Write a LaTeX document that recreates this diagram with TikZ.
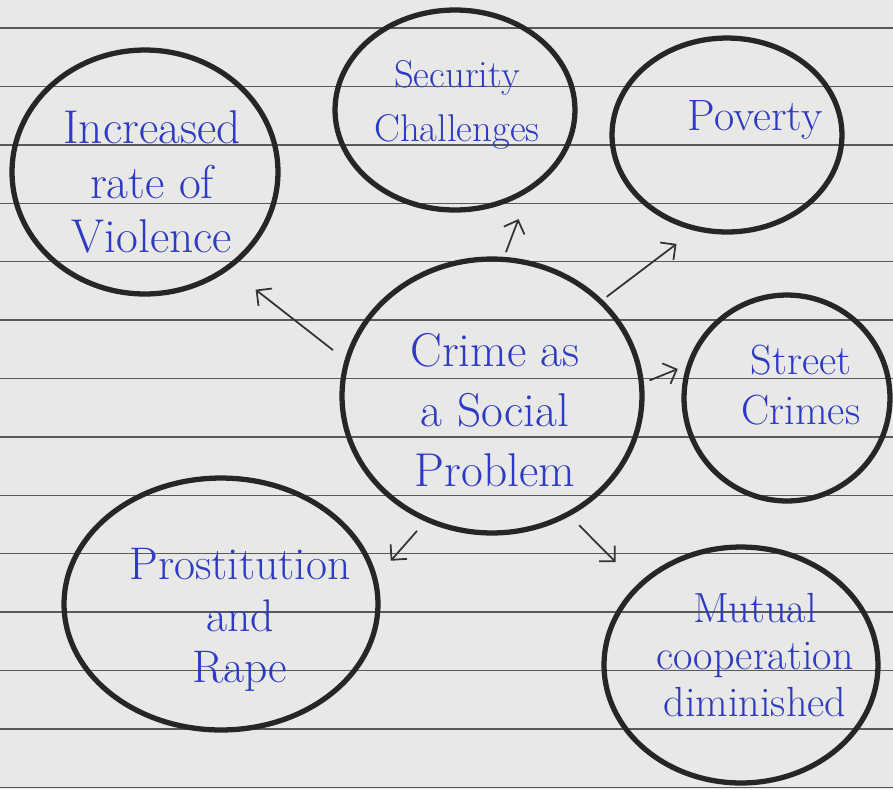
\documentclass[tikz,border=0pt]{standalone}
\usetikzlibrary{shapes.geometric,arrows.meta}
\definecolor{inkblue}{RGB}{45,58,195}
\definecolor{paper}{RGB}{232,232,230}
\tikzset{
  bubble/.style={ellipse, draw=black!85, line width=3pt, inner sep=0pt},
  jot/.style={text=inkblue, align=center, inner sep=0pt},
  link/.style={-{Straight Barb[length=2.2mm,width=4.4mm]}, draw=black!80, line width=1pt},
  ruling/.style={draw=black!65, line width=0.8pt}
}
\begin{document}
\begin{tikzpicture}[x=0.02cm, y=-0.02cm]
  \fill[paper] (0,0) rectangle (893,789);
  \useasboundingbox (0,0) rectangle (893,789);
  \foreach \i in {0,...,13}
    \draw[ruling] (0,{28+58.4*\i}) -- (893,{28+58.4*\i});

  \node[bubble, minimum width=5.32cm, minimum height=4.88cm] (violence) at (145,172) {};
  \node[bubble, minimum width=4.8cm, minimum height=4.0cm] (security) at (455,110) {};
  \node[bubble, minimum width=4.6cm, minimum height=3.88cm] (poverty) at (727,135) {};
  \node[bubble, minimum width=6.0cm, minimum height=5.48cm] (crime) at (492,396) {};
  \node[bubble, minimum width=4.12cm, minimum height=4.12cm] (street) at (787,398) {};
  \node[bubble, minimum width=6.28cm, minimum height=5.04cm] (prostitution) at (221,604) {};
  \node[bubble, minimum width=5.48cm, minimum height=4.72cm] (mutual) at (741,665) {};

  \node[jot, font=\fontsize{27}{31}\selectfont] (violencetxt) at (152,182) {Increased\\rate of\\Violence};
  \node[jot, font=\fontsize{22}{31}\selectfont] (securitytxt) at (457,105) {Security\\Challenges};
  \node[jot, font=\fontsize{25}{30}\selectfont] (povertytxt) at (755,120) {Poverty};
  \node[jot, font=\fontsize{27}{34}\selectfont] (crimetxt) at (495,410) {Crime as\\a Social\\Problem};
  \node[jot, font=\fontsize{24}{28}\selectfont] (streettxt) at (801,385) {Street\\Crimes};
  \node[jot, font=\fontsize{26}{29.5}\selectfont] (prostitutiontxt) at (240,620) {Prostitution\\and\\Rape};
  \node[jot, font=\fontsize{24}{27}\selectfont] (mutualtxt) at (755,655) {Mutual\\cooperation\\diminished};

  \draw[link, shorten <=0.3cm, shorten >=0.66cm] (crime.166) -- (violence.-49);
  \draw[link, shorten <=0.1cm, shorten >=0.58cm] (crime.85) -- (security.-48);
  \draw[link, shorten <=0.1cm, shorten >=0.44cm] (crime.41) -- (poverty.-109);
  \draw[link, shorten <=0.12cm, shorten >=0.19cm] (crime.5) -- (street.162);
  \draw[link, shorten <=0.25cm, shorten >=0.42cm] (crime.-118) -- (prostitution.10);
  \draw[link, shorten <=0.26cm, shorten >=0.62cm] (crime.-57) -- (mutual.142);
\end{tikzpicture}
\end{document}
